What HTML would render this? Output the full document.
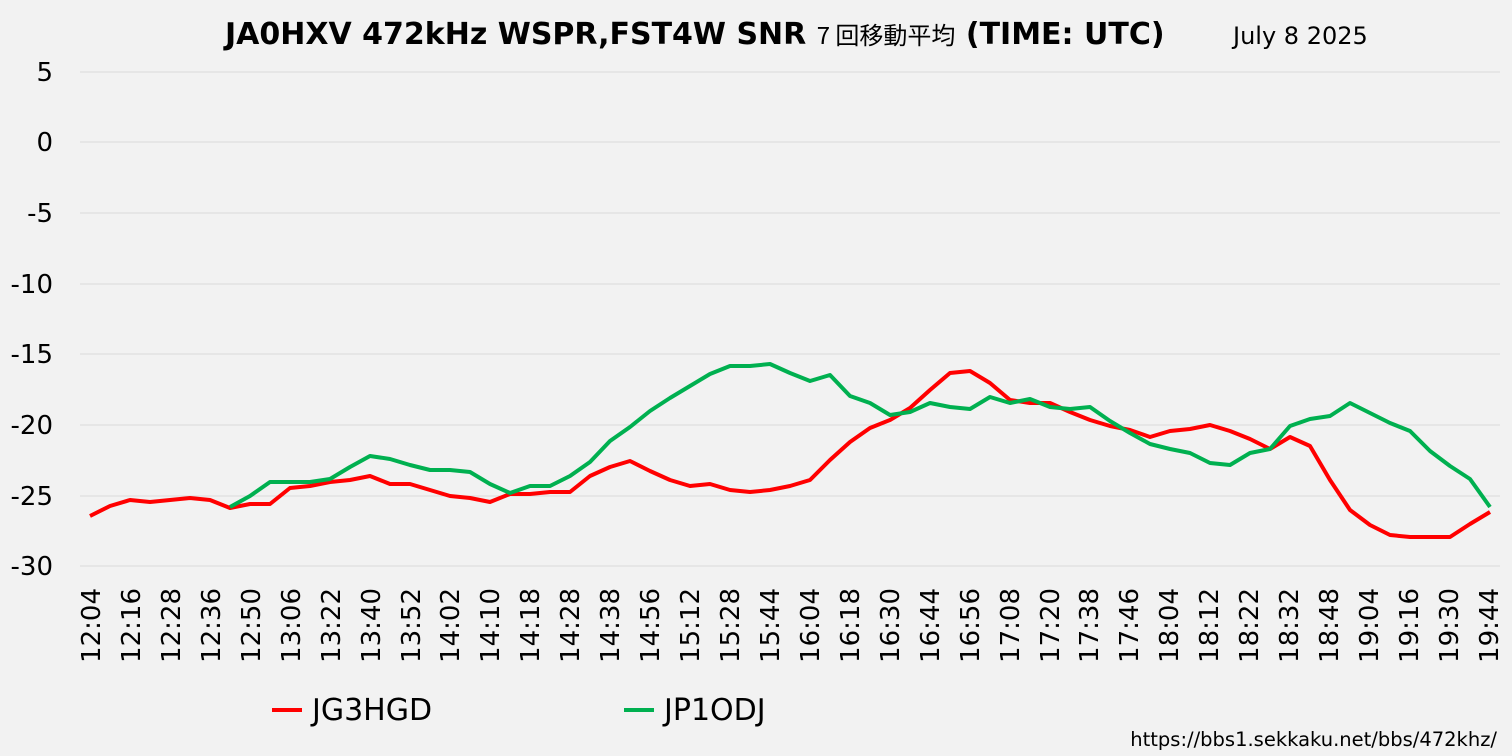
<!DOCTYPE html>
<html><head><meta charset="utf-8"><style>
html,body{margin:0;padding:0;background:#f2f2f2;}
svg{display:block;font-family:"DejaVu Sans","Noto Sans CJK JP",sans-serif;}
</style></head><body>
<svg width="1512" height="756" viewBox="0 0 1512 756" xmlns="http://www.w3.org/2000/svg">
<rect width="1512" height="756" fill="#f2f2f2"/>
<text x="225" y="44" font-size="30" font-weight="bold" fill="#000">JA0HXV 472kHz WSPR,FST4W SNR <tspan font-size="24" font-weight="normal" font-family="Noto Sans CJK JP">7 回移動平均</tspan> (TIME: UTC)</text>
<text x="1233" y="44" font-size="24" fill="#000">July 8 2025</text>
<g stroke="#d9d9d9" stroke-width="1">
<line x1="80" y1="72" x2="1500" y2="72"/><line x1="80" y1="142" x2="1500" y2="142"/>
<line x1="80" y1="213" x2="1500" y2="213"/><line x1="80" y1="284" x2="1500" y2="284"/>
<line x1="80" y1="354" x2="1500" y2="354"/><line x1="80" y1="425" x2="1500" y2="425"/>
<line x1="80" y1="496" x2="1500" y2="496"/><line x1="80" y1="566" x2="1500" y2="566"/>
</g>
<g font-size="26" fill="#000" text-anchor="end">
<text x="53" y="81">5</text><text x="53" y="151">0</text><text x="53" y="222">-5</text>
<text x="53" y="293">-10</text><text x="53" y="363">-15</text><text x="53" y="434">-20</text>
<text x="53" y="505">-25</text><text x="53" y="575">-30</text>
</g>
<g font-size="26" fill="#000" text-anchor="end">
<text transform="translate(100,588) rotate(-90)">12:04</text>
<text transform="translate(140,588) rotate(-90)">12:16</text>
<text transform="translate(180,588) rotate(-90)">12:28</text>
<text transform="translate(220,588) rotate(-90)">12:36</text>
<text transform="translate(260,588) rotate(-90)">12:50</text>
<text transform="translate(300,588) rotate(-90)">13:06</text>
<text transform="translate(340,588) rotate(-90)">13:22</text>
<text transform="translate(380,588) rotate(-90)">13:40</text>
<text transform="translate(420,588) rotate(-90)">13:52</text>
<text transform="translate(459,588) rotate(-90)">14:02</text>
<text transform="translate(499,588) rotate(-90)">14:10</text>
<text transform="translate(539,588) rotate(-90)">14:18</text>
<text transform="translate(579,588) rotate(-90)">14:28</text>
<text transform="translate(619,588) rotate(-90)">14:38</text>
<text transform="translate(659,588) rotate(-90)">14:56</text>
<text transform="translate(699,588) rotate(-90)">15:12</text>
<text transform="translate(739,588) rotate(-90)">15:28</text>
<text transform="translate(779,588) rotate(-90)">15:44</text>
<text transform="translate(819,588) rotate(-90)">16:04</text>
<text transform="translate(859,588) rotate(-90)">16:18</text>
<text transform="translate(899,588) rotate(-90)">16:30</text>
<text transform="translate(939,588) rotate(-90)">16:44</text>
<text transform="translate(979,588) rotate(-90)">16:56</text>
<text transform="translate(1019,588) rotate(-90)">17:08</text>
<text transform="translate(1059,588) rotate(-90)">17:20</text>
<text transform="translate(1098,588) rotate(-90)">17:38</text>
<text transform="translate(1138,588) rotate(-90)">17:46</text>
<text transform="translate(1178,588) rotate(-90)">18:04</text>
<text transform="translate(1218,588) rotate(-90)">18:12</text>
<text transform="translate(1258,588) rotate(-90)">18:22</text>
<text transform="translate(1298,588) rotate(-90)">18:32</text>
<text transform="translate(1338,588) rotate(-90)">18:48</text>
<text transform="translate(1378,588) rotate(-90)">19:04</text>
<text transform="translate(1418,588) rotate(-90)">19:16</text>
<text transform="translate(1458,588) rotate(-90)">19:30</text>
<text transform="translate(1498,588) rotate(-90)">19:44</text>
</g>
<polyline fill="none" stroke="#ff0000" stroke-width="4" stroke-linejoin="round" points="90,516 110,506 130,500 150,502 170,500 190,498 210,500 230,508 250,504 270,504 290,488 310,486 330,482 350,480 370,476 390,484 410,484 430,490 450,496 470,498 490,502 510,494 530,494 550,492 570,492 590,476 610,467 630,461 650,471 670,480 690,486 710,484 730,490 750,492 770,490 790,486 810,480 830,460 850,442 870,428 890,420 910,408 930,390 950,373 970,371 990,383 1010,400 1030,403 1050,403 1070,412 1090,420 1110,426 1130,430 1150,437 1170,431 1190,429 1210,425 1230,431 1250,439 1270,449 1290,437 1310,446 1330,480 1350,510 1370,525 1390,535 1410,537 1430,537 1450,537 1470,524 1490,512"/>
<polyline fill="none" stroke="#00b050" stroke-width="4" stroke-linejoin="round" points="230,507 250,496 270,482 290,482 310,482 330,479 350,467 370,456 390,459 410,465 430,470 450,470 470,472 490,484 510,493 530,486 550,486 570,476 590,462 610,441 630,427 650,411 670,398 690,386 710,374 730,366 750,366 770,364 790,373 810,381 830,375 850,396 870,403 890,415 910,412 930,403 950,407 970,409 990,397 1010,403 1030,399 1050,407 1070,409 1090,407 1110,421 1130,433 1150,444 1170,449 1190,453 1210,463 1230,465 1250,453 1270,449 1290,426 1310,419 1330,416 1350,403 1370,413 1390,423 1410,431 1430,451 1450,466 1470,479 1490,507"/>
<line x1="272" y1="710" x2="302" y2="710" stroke="#ff0000" stroke-width="4"/>
<text x="312" y="720" font-size="30" fill="#000">JG3HGD</text>
<line x1="624" y1="710" x2="654" y2="710" stroke="#00b050" stroke-width="4"/>
<text x="664" y="720" font-size="30" fill="#000">JP1ODJ</text>
<text x="1497" y="746" font-size="19.5" fill="#000" text-anchor="end">https://bbs1.sekkaku.net/bbs/472khz/</text>
</svg>
</body></html>
